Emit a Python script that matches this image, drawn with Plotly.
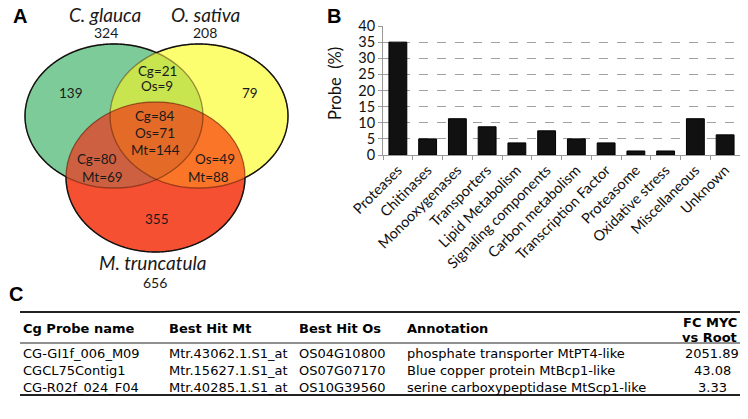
import numpy as np
import plotly.graph_objects as go

# ---------------- data ----------------
set_names = ["C. glauca", "O. sativa", "M. truncatula"]
set_totals = [324, 208, 656]
only_counts = [139, 79, 355]                 # Cg only, Os only, Mt only
cg_os = ["Cg=21", "Os=9"]
cg_os_mt = ["Cg=84", "Os=71", "Mt=144"]
cg_mt = ["Cg=80", "Mt=69"]
os_mt = ["Os=49", "Mt=88"]

categories = ["Proteases", "Chitinases", "Monooxygenases", "Transporters",
              "Lipid Metabolism", "Signaling components", "Carbon metabolism",
              "Transcription Factor", "Proteasome", "Oxidative stress",
              "Miscellaneous", "Unknown"]
probe_pct = [35, 5, 11.25, 8.75, 3.75, 7.5, 5, 3.75, 1.25, 1.25, 11.25, 6.25]
y_tick_vals = [0, 5, 10, 15, 20, 25, 30, 35, 40]

table_header = ["Cg Probe name", "Best Hit Mt", "Best Hit Os", "Annotation"]
fc_header = ["FC MYC", "vs Root"]
cg_probe = ["CG-GI1f_006_M09", "CGCL75Contig1", "CG-R02f_024_F04"]
best_hit_mt = ["Mtr.43062.1.S1_at", "Mtr.15627.1.S1_at", "Mtr.40285.1.S1_at"]
best_hit_os = ["OS04G10800", "OS07G07170", "OS10G39560"]
annotation_txt = ["phosphate transporter MtPT4-like", "Blue copper protein MtBcp1-like",
                  "serine carboxypeptidase MtScp1-like"]
fc_myc = [2051.89, 43.08, 3.33]

# ---------------- figure ----------------
# page body has an 8px margin: the figure starts at (8, 8) of the window
OFF = 8
W, H = 732, 403
X0, X1 = OFF, OFF + W
Y0, Y1 = OFF, OFF + H

def dx(px):
    return (px - X0) / W

def dy(py):
    return 1 - (py - Y0) / H

fig = go.Figure()

fig.add_trace(go.Bar(x=categories, y=probe_pct, marker=dict(color="#111111", line=dict(color="#000000", width=1)),
                     xaxis="x", yaxis="y", hoverinfo="skip"))
fig.add_trace(go.Scatter(x=[None], y=[None], xaxis="x3", yaxis="y3", showlegend=False))

shapes = []
annotations = []

# ---------------- Venn geometry (window pixels) ----------------
ells = {
    "G": (114, 116, 89, 72),
    "Y": (199, 116, 89, 72),
    "R": (155.5, 177, 89.5, 75),
}
col = {
    "G": "rgb(125,203,152)",
    "Y": "rgb(253,253,112)",
    "GY": "rgb(200,228,78)",
    "R": "rgb(246,80,50)",
    "GR": "rgb(206,96,66)",
    "YR": "rgb(251,117,40)",
    "GYR": "rgb(228,106,40)",
}

def boundary(e, n=1440):
    cx, cy, rx, ry = e
    t = np.linspace(0, 2 * np.pi, n, endpoint=False)
    return cx + rx * np.cos(t), cy + ry * np.sin(t)

def inside(x, y, e, tol=1e-9):
    cx, cy, rx, ry = e
    return ((x - cx) / rx) ** 2 + ((y - cy) / ry) ** 2 <= 1 + tol

def inter_path(keys):
    xs, ys = [], []
    for k in keys:
        bx, by = boundary(ells[k])
        m = np.ones_like(bx, dtype=bool)
        for k2 in keys:
            if k2 != k:
                m &= inside(bx, by, ells[k2])
        xs.append(bx[m]); ys.append(by[m])
    xs = np.concatenate(xs); ys = np.concatenate(ys)
    cx, cy = xs.mean(), ys.mean()
    order = np.argsort(np.arctan2(ys - cy, xs - cx))
    xs, ys = xs[order], ys[order]
    return "M " + " L ".join(f"{a:.2f},{b:.2f}" for a, b in zip(xs, ys)) + " Z"

def ell_shape(k, fill):
    cx, cy, rx, ry = ells[k]
    return dict(type="circle", xref="x3", yref="y3", x0=cx - rx, x1=cx + rx, y0=cy - ry, y1=cy + ry,
                fillcolor=fill, line=dict(width=0), layer="above")

shapes.append(ell_shape("G", col["G"]))
shapes.append(ell_shape("Y", col["Y"]))
shapes.append(dict(type="path", xref="x3", yref="y3", path=inter_path(["G", "Y"]), fillcolor=col["GY"], line=dict(width=0)))
shapes.append(ell_shape("R", col["R"]))
shapes.append(dict(type="path", xref="x3", yref="y3", path=inter_path(["G", "R"]), fillcolor=col["GR"], line=dict(width=0)))
shapes.append(dict(type="path", xref="x3", yref="y3", path=inter_path(["Y", "R"]), fillcolor=col["YR"], line=dict(width=0)))
shapes.append(dict(type="path", xref="x3", yref="y3", path=inter_path(["G", "Y", "R"]), fillcolor=col["GYR"], line=dict(width=0)))

for k in ["G", "Y", "R"]:
    cx, cy, rx, ry = ells[k]
    shapes.append(dict(type="circle", xref="x3", yref="y3", x0=cx - rx, x1=cx + rx, y0=cy - ry, y1=cy + ry,
                       fillcolor="rgba(0,0,0,0)", line=dict(color="rgba(60,20,0,0.45)", width=1.3)))
for k in ["G", "Y", "R"]:
    bx, by = boundary(ells[k])
    m = np.ones_like(bx, dtype=bool)
    for k2 in ells:
        if k2 != k:
            m &= ~inside(bx, by, ells[k2])
    segs, cur = [], []
    idx = np.arange(len(bx))
    start = int(np.argmin(m)) if not m.all() else 0
    idx = np.roll(idx, -start)
    for i in idx:
        if m[i]:
            cur.append((bx[i], by[i]))
        else:
            if len(cur) > 1:
                segs.append(cur)
            cur = []
    if len(cur) > 1:
        segs.append(cur)
    p = " ".join("M " + " L ".join(f"{a:.2f},{b:.2f}" for a, b in s) for s in segs)
    shapes.append(dict(type="path", xref="x3", yref="y3", path=p, fillcolor="rgba(0,0,0,0)",
                       line=dict(color="#111111", width=1.4)))

VF = "Lato"
def txt(x, y, s, size=13.5, color="#1a1a1a", family=VF, xanchor="center", yanchor="middle", **kw):
    annotations.append(dict(x=x, y=y, xref="x3", yref="y3", text=s, showarrow=False,
                            font=dict(size=size, color=color, family=family),
                            xanchor=xanchor, yanchor=yanchor, **kw))

txt(105, 14.5, f"<i>{set_names[0]}</i>", size=19)
txt(106, 32, str(set_totals[0]), size=14)
txt(205, 14.5, f"<i>{set_names[1]}</i>", size=19)
txt(205, 32, str(set_totals[1]), size=14)
txt(153, 262, f"<i>{set_names[2]}</i>", size=19)
txt(155, 282, str(set_totals[2]), size=14)
txt(71, 93, str(only_counts[0]))
txt(250, 93, str(only_counts[1]))
txt(157, 219, str(only_counts[2]))
txt(157, 71, cg_os[0]); txt(157, 86, cg_os[1])
txt(155, 116, cg_os_mt[0]); txt(155, 133, cg_os_mt[1]); txt(155, 150, cg_os_mt[2])
txt(97, 159, cg_mt[0]); txt(102, 177, cg_mt[1])
txt(215, 159, os_mt[0]); txt(208, 177, os_mt[1])

PF = "Liberation Sans"
txt(20, 16, "<b>A</b>", size=20, color="#000", family=PF)
txt(334, 16, "<b>B</b>", size=20, color="#000", family=PF)
txt(16, 294, "<b>C</b>", size=20, color="#000", family=PF)

# y-axis title of the bar chart
txt(335, 84, "Probe  (%)", size=16.5, color="#111", textangle=-90)

# ---------------- table ----------------
TF = "DejaVu Sans"
TS = 13
col_x = [21, 167, 297, 405]
row_y = [353, 370, 387]
for cx_, h in zip(col_x, table_header):
    txt(cx_, 328, f"<b>{h}</b>", size=TS, color="#000", family=TF, xanchor="left")
txt(739, 322, f"<b>{fc_header[0]}</b>", size=TS, color="#000", family=TF, xanchor="right")
txt(739, 337, f"<b>{fc_header[1]}</b>", size=TS, color="#000", family=TF, xanchor="right")
for i, ry_ in enumerate(row_y):
    for cx_, colvals in zip(col_x, [cg_probe, best_hit_mt, best_hit_os, annotation_txt]):
        txt(cx_, ry_, colvals[i], size=TS, color="#000", family=TF, xanchor="left")
    txt(712, ry_, f"{fc_myc[i]:.2f}", size=TS, color="#000", family=TF, xanchor="center")

for yy, w in [(312, 2), (343, 1.2), (395, 2)]:
    shapes.append(dict(type="line", xref="x3", yref="y3", x0=20, x1=740, y0=yy, y1=yy,
                       line=dict(color="#222", width=w)))

# ---------------- layout ----------------
fig.update_layout(
    width=W, height=H, margin=dict(l=0, r=0, t=0, b=0, autoexpand=False),
    paper_bgcolor="white", plot_bgcolor="rgba(0,0,0,0)",
    showlegend=False, bargap=0.4,
    shapes=shapes, annotations=annotations,
    xaxis=dict(domain=[dx(383), dx(740)], anchor="y", type="category", automargin=False,
               tickangle=-45, tickson="boundaries", ticks="outside", ticklen=4, tickcolor="#999",
               showline=True, linecolor="#999", linewidth=1, showgrid=False,
               tickfont=dict(family=VF, size=14.5, color="#111")),
    yaxis=dict(domain=[dy(155), dy(26)], anchor="x", range=[0, 40], automargin=False,
               tickvals=y_tick_vals, ticks="outside", ticklen=4, tickcolor="#999",
               showline=True, linecolor="#999", linewidth=1,
               showgrid=True, gridcolor="#a0a0a0", griddash="dash", gridwidth=1,
               zeroline=False,
               tickfont=dict(family=VF, size=14.5, color="#111")),
    xaxis3=dict(domain=[0, 1], range=[X0, X1], anchor="y3", visible=False, fixedrange=True, automargin=False),
    yaxis3=dict(domain=[0, 1], range=[Y1, Y0], anchor="x3", visible=False, fixedrange=True, automargin=False),
)

fig.write_html("out.html")
